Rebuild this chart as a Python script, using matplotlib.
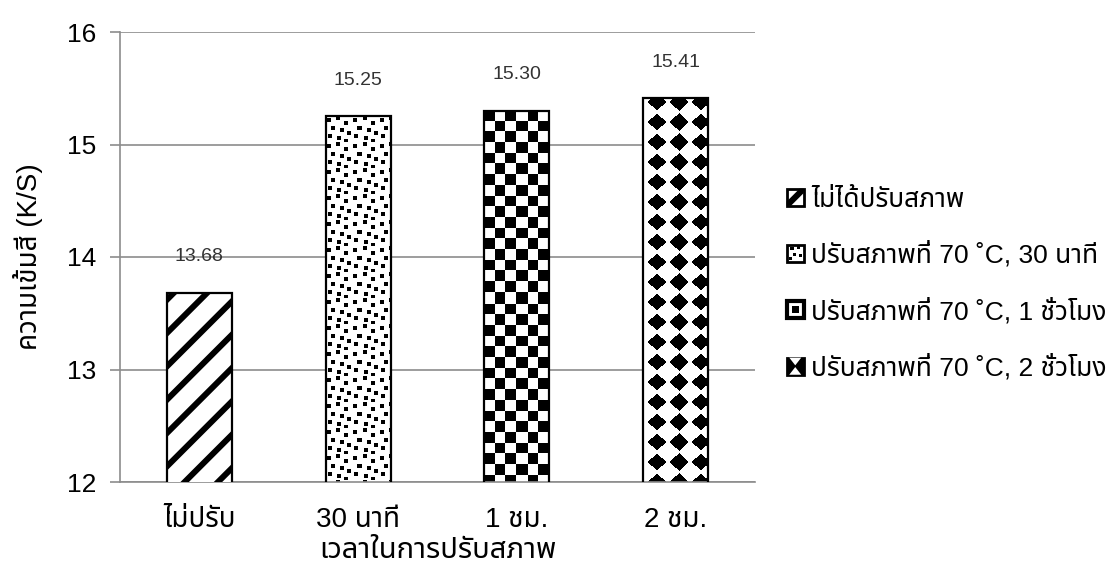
import numpy as np
import matplotlib
matplotlib.use("Agg")
import matplotlib.pyplot as plt
from matplotlib import font_manager as fm
from matplotlib.ft2font import FT2Font
from matplotlib.legend_handler import HandlerBase
from matplotlib.patches import Rectangle, Polygon

# data
categories = ["ไม่ปรับ", "30 นาที", "1 ชม.", "2 ชม."]
values = [13.68, 15.25, 15.30, 15.41]
series_names = ["ไม่ได้ปรับสภาพ", "ปรับสภาพที่ 70 ˚C, 30 นาที",
                "ปรับสภาพที่ 70 ˚C, 1 ชั่วโมง", "ปรับสภาพที่ 70 ˚C, 2 ชั่วโมง"]
yticks = [12, 13, 14, 15, 16]


def find_thai():
    prefs = ["Noto Sans Thai", "Noto Sans Thai UI", "Loma", "Garuda", "Waree",
             "Norasi", "Sawasdee", "Umpush", "Kinnari", "TlwgTypo", "Laksaman"]
    found = {}
    for f in fm.fontManager.ttflist:
        try:
            cm = FT2Font(f.fname).get_charmap()
        except Exception:
            continue
        if 0x0E01 in cm:
            found.setdefault(f.name, f.fname)
    for p in prefs:
        if p in found:
            return p
    return next(iter(found), None)


thai = find_thai()
fams = ["Liberation Sans"] + ([thai] if thai else []) + ["DejaVu Sans"]
plt.rcParams["font.family"] = fams
plt.rcParams["hatch.linewidth"] = 4.3

grey = "#8c8c8c"
fig = plt.figure(figsize=(11.07, 5.76), dpi=100)
ax = fig.add_axes([120 / 1107, 1 - 482 / 576, 635 / 1107, 450 / 576])
ax.set_xlim(-0.5, 3.5)
ax.set_ylim(12, 16)

x = np.arange(len(categories))
bw = 0.41
bars = ax.bar(x, values, width=bw, facecolor="none", edgecolor="black",
              linewidth=1.6, zorder=3)
bars[0].set_facecolor("white")
bars[0].set_hatch("/")


# pattern functions, pixel coords measured from bar's top-left
def dots(X, Y):
    pts = [(1, 2), (10, 0), (18, 5), (5, 10), (14, 12), (21, 15), (2, 18), (11, 20), (18, 23)]
    out = np.zeros_like(X, dtype=bool)
    xm, ym = X % 26, Y % 26
    for px, py in pts:
        out |= (xm >= px) & (xm < px + 4) & (ym >= py) & (ym < py + 4)
    return out


def checker(X, Y):
    s = 10.7
    return ((np.floor(X / s) + np.floor(Y / s)) % 2) == 0


def diamonds(X, Y):
    dx = ((X - 14 + 10.75) % 21.5) - 10.75
    dy = ((Y - 4 + 10) % 20) - 10
    return np.abs(dx) / 9.5 + np.abs(dy) / 8.5 <= 1


def fill_pattern(rect, func):
    xa = rect.get_x()
    xb = xa + rect.get_width()
    ya = 12
    yb = rect.get_y() + rect.get_height()
    p0 = ax.transData.transform((xa, ya))
    p1 = ax.transData.transform((xb, yb))
    w = int(round(p1[0] - p0[0]))
    h = int(round(p1[1] - p0[1]))
    X, Y = np.meshgrid(np.arange(w) + 0.5, np.arange(h) + 0.5)
    img = func(X, Y)
    ax.imshow(np.where(img, 0.0, 1.0), cmap="gray", vmin=0, vmax=1,
              extent=(xa, xb, ya, yb), origin="upper", interpolation="nearest",
              aspect="auto", zorder=2, clip_path=rect, clip_on=True)


for b, f in zip(bars[1:], [dots, checker, diamonds]):
    fill_pattern(b, f)
ax.set_xlim(-0.5, 3.5)
ax.set_ylim(12, 16)

for xi, v in zip(x, values):
    ax.annotate(f"{v:.2f}", (xi, v), xytext=(0, 20), textcoords="offset points",
                ha="center", va="bottom", fontsize=14, color="#333333")

ax.set_yticks(yticks)
ax.yaxis.grid(True, color=grey, linewidth=1.2)
ax.set_axisbelow(True)
ax.set_xticks(x)
ax.set_xticklabels(categories, fontsize=20)
ax.tick_params(axis="x", length=0, pad=18)
ax.tick_params(axis="y", length=7, width=1.2, color=grey, labelsize=19, pad=10)
for s in ["top", "right"]:
    ax.spines[s].set_visible(False)
for s in ["left", "bottom"]:
    ax.spines[s].set_color(grey)
    ax.spines[s].set_linewidth(1.2)

ax.set_ylabel("ความเข้มสี (K/S)", fontsize=20, labelpad=17)
ax.set_xlabel("เวลาในการปรับสภาพ", fontsize=21, labelpad=2)


class KeyHandler(HandlerBase):
    def __init__(self, kind):
        super().__init__()
        self.kind = kind

    def create_artists(self, legend, orig_handle, xdescent, ydescent,
                       width, height, fontsize, trans):
        s = height
        x0 = -xdescent + (width - s) / 2
        y0 = -ydescent
        arts = []
        if self.kind == 0:
            arts.append(Rectangle((x0, y0), s, s, facecolor="white", edgecolor="black", lw=2))
            arts.append(Polygon([(x0, y0), (x0 + 0.25 * s, y0), (x0 + s, y0 + 0.75 * s),
                                 (x0 + s, y0 + s), (x0 + 0.75 * s, y0 + s), (x0, y0 + 0.25 * s)],
                                facecolor="black", edgecolor="none"))
        elif self.kind == 1:
            arts.append(Rectangle((x0, y0), s, s, facecolor="white", edgecolor="black", lw=2))
            for px, py in [(0.2, 0.7), (0.6, 0.75), (0.35, 0.35), (0.72, 0.3), (0.12, 0.1)]:
                arts.append(Rectangle((x0 + px * s, y0 + py * s), 0.2 * s, 0.2 * s,
                                      facecolor="black", edgecolor="none"))
        elif self.kind == 2:
            arts.append(Rectangle((x0, y0), s, s, facecolor="white", edgecolor="black", lw=3))
            arts.append(Rectangle((x0 + 0.3 * s, y0 + 0.3 * s), 0.4 * s, 0.4 * s,
                                  facecolor="black", edgecolor="none"))
        else:
            arts.append(Rectangle((x0, y0), s, s, facecolor="black", edgecolor="black", lw=2))
            arts.append(Polygon([(x0 + 0.15 * s, y0 + s), (x0 + 0.85 * s, y0 + s),
                                 (x0 + 0.5 * s, y0 + 0.55 * s)], facecolor="white", edgecolor="none"))
            arts.append(Polygon([(x0 + 0.15 * s, y0), (x0 + 0.85 * s, y0),
                                 (x0 + 0.5 * s, y0 + 0.45 * s)], facecolor="white", edgecolor="none"))
        for a in arts:
            a.set_transform(trans)
        return arts


handles = [Rectangle((0, 0), 1, 1) for _ in series_names]
hmap = {h: KeyHandler(i) for i, h in enumerate(handles)}
fig.legend(handles, series_names, handler_map=hmap, loc="center left",
           bbox_to_anchor=(0.711, 1 - 284 / 576), frameon=False, fontsize=19,
           handlelength=0.62, handleheight=0.62, handletextpad=0.3, labelspacing=1.13,
           borderaxespad=0, borderpad=0)

fig.savefig("out.png", dpi=100)
